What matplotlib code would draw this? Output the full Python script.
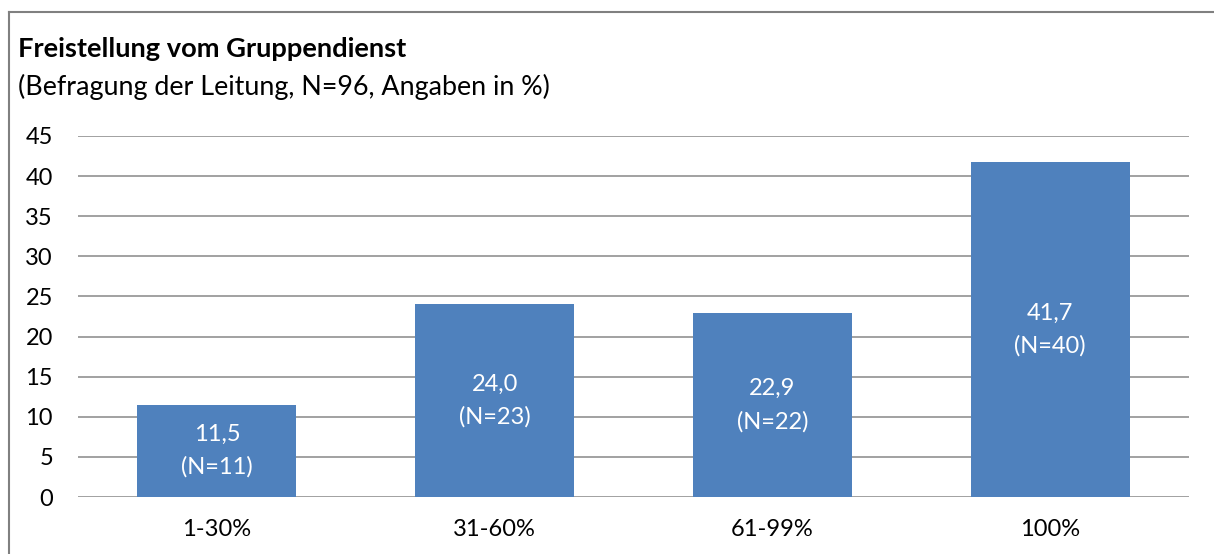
import numpy as np
import matplotlib
matplotlib.use('Agg')
import matplotlib.pyplot as plt
from matplotlib.lines import Line2D

plt.rcParams['font.family'] = ['Lato', 'DejaVu Sans']

# data
categories = ['1-30%', '31-60%', '61-99%', '100%']
percent = [11.5, 24.0, 22.9, 41.7]
counts = [11, 23, 22, 40]

title = 'Freistellung vom Gruppendienst'
subtitle = '(Befragung der Leitung, N=96, Angaben in %)'

bar_color = '#4F81BD'
grid_color = '#878787'

fig = plt.figure(figsize=(12.14, 5.54), dpi=100)
ax = fig.add_axes([78/1214, 1-497/554, (1189-78)/1214, (497-136)/554])

x = np.arange(len(categories))
bars = ax.bar(x, percent, width=0.572, color=bar_color, zorder=3)

# labels inside the bars, german decimal comma
for b, p, n in zip(bars, percent, counts):
    lab = f'{p:.1f}'.replace('.', ',') + f'\n(N={n})'
    ax.text(b.get_x() + b.get_width()/2, p/2, lab, ha='center', va='center',
            color='white', fontsize=17, linespacing=1.65, zorder=4)

ax.set_xlim(-0.5, len(categories) - 0.5)
ax.set_ylim(0, 45)
ax.set_yticks(np.arange(0, 46, 5))
ax.set_xticks(x)
ax.set_xticklabels(categories)
ax.tick_params(axis='both', length=0, labelsize=17, colors='black')
ax.tick_params(axis='y', pad=18)
ax.tick_params(axis='x', pad=16)
ax.yaxis.grid(True, color=grid_color, linewidth=1.1, zorder=0)
ax.set_axisbelow(True)
for s in ax.spines.values():
    s.set_visible(False)

fig.text(18/1214, 1-57/554, title, fontsize=19.6, fontweight='bold', ha='left', va='baseline')
fig.text(18/1214, 1-95/554, subtitle, fontsize=19.4, ha='left', va='baseline')

# outer frame (left and top edge visible)
fig.add_artist(Line2D([9/1214, 9/1214], [0, 1-12/554], color='#808080', linewidth=1.5))
fig.add_artist(Line2D([9/1214, 1], [1-12/554, 1-12/554], color='#808080', linewidth=1.5))

fig.savefig('out.png', dpi=100)
